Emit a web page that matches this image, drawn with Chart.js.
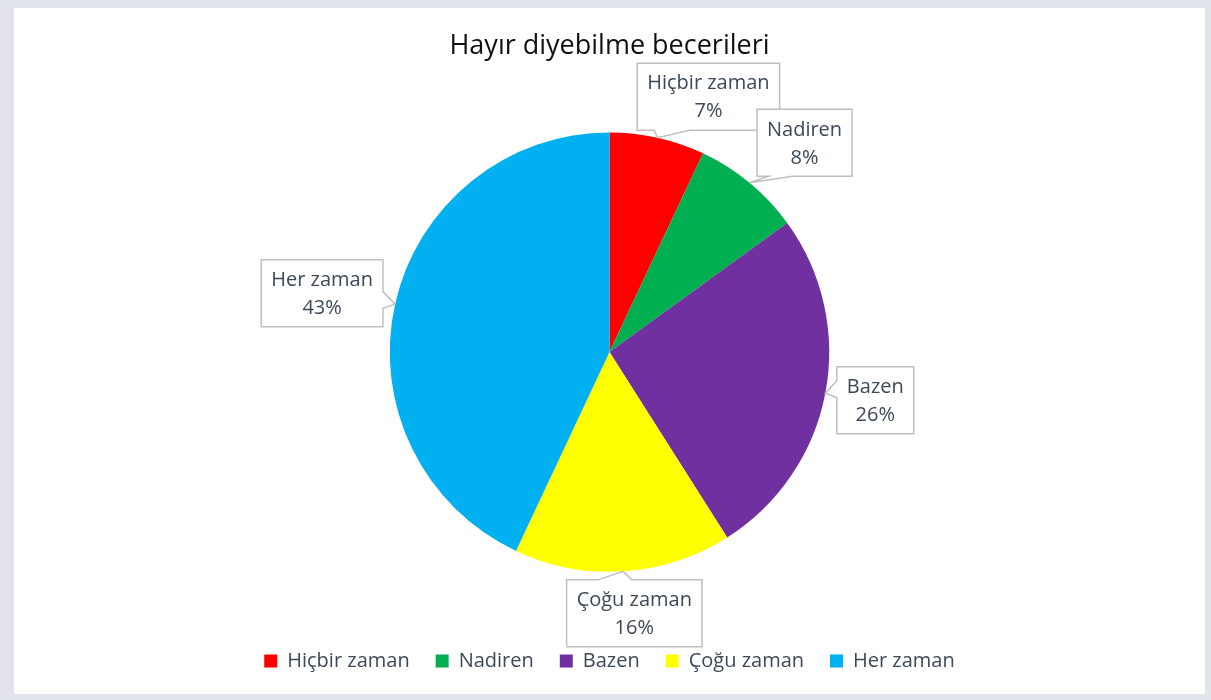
<!DOCTYPE html>
<html>
<head>
<meta charset="utf-8">
<script src="https://cdn.jsdelivr.net/npm/chart.js@4.4.0/dist/chart.umd.min.js"></script>
<style>
  html, body { margin: 0; padding: 0; background: #e1e5eb; }
  #frame { position: absolute; left: 14px; top: 8px; width: 1191px; height: 686px; background: #ffffff; }
</style>
</head>
<body>
<div id="frame"><canvas id="myChart"></canvas></div>
<script>
var categories = ["Hiçbir zaman", "Nadiren", "Bazen", "Çoğu zaman", "Her zaman"];
var percentValues = [7, 8, 26, 16, 43];
var sliceColors = ["#ff0000", "#00b050", "#7030a0", "#ffff00", "#00b0f0"];

// where each callout box sits, relative to the point on the slice edge
var calloutOffsets = [[51, -41], [55, -40], [50, 7], [11, 42], [-73, -11]];

var textColor = "#3d4859";

// draws Excel-like callout boxes pointing at the middle of each slice's arc
var calloutPlugin = {
    id: "callouts",
    afterDatasetsDraw: function (chart) {
        var ctx = chart.ctx;
        var meta = chart.getDatasetMeta(0);
        ctx.save();
        ctx.font = "20px 'Open Sans'";
        meta.data.forEach(function (arc, i) {
            var mid = (arc.startAngle + arc.endAngle) / 2;
            var tipX = arc.x + Math.cos(mid) * arc.outerRadius;
            var tipY = arc.y + Math.sin(mid) * arc.outerRadius;
            var line1 = categories[i];
            var line2 = percentValues[i] + "%";
            var w = Math.max(ctx.measureText(line1).width, ctx.measureText(line2).width) + 20;
            var h = 67;
            var cx = tipX + calloutOffsets[i][0];
            var cy = tipY + calloutOffsets[i][1];
            var l = cx - w / 2, r = cx + w / 2, t = cy - h / 2, b = cy + h / 2;

            var side;
            if (tipY > b) side = "bottom";
            else if (tipY < t) side = "top";
            else if (tipX < l) side = "left";
            else side = "right";

            function base(start, len, proj) {
                var bw = len * 0.25;
                var s = proj - start - bw * 0.75;
                s = Math.max(len * 0.12, Math.min(len - len * 0.12 - bw, s));
                return [start + s, start + s + bw];
            }

            ctx.beginPath();
            ctx.moveTo(l, t);
            if (side === "top") {
                var bt = base(l, w, tipX);
                ctx.lineTo(bt[0], t); ctx.lineTo(tipX, tipY); ctx.lineTo(bt[1], t);
            }
            ctx.lineTo(r, t);
            if (side === "right") {
                var br = base(t, h, tipY);
                ctx.lineTo(r, br[0]); ctx.lineTo(tipX, tipY); ctx.lineTo(r, br[1]);
            }
            ctx.lineTo(r, b);
            if (side === "bottom") {
                var bb = base(l, w, tipX);
                ctx.lineTo(bb[1], b); ctx.lineTo(tipX, tipY); ctx.lineTo(bb[0], b);
            }
            ctx.lineTo(l, b);
            if (side === "left") {
                var bl = base(t, h, tipY);
                ctx.lineTo(l, bl[1]); ctx.lineTo(tipX, tipY); ctx.lineTo(l, bl[0]);
            }
            ctx.closePath();
            ctx.fillStyle = "#ffffff";
            ctx.fill();
            ctx.lineWidth = 1.5;
            ctx.strokeStyle = "#bfbfbf";
            ctx.stroke();

            ctx.fillStyle = textColor;
            ctx.textAlign = "center";
            ctx.textBaseline = "middle";
            ctx.fillText(line1, cx, cy - 13);
            ctx.fillText(line2, cx, cy + 15);
        });
        ctx.restore();
    }
};

var ctx = document.getElementById("myChart").getContext("2d");
var myChart = new Chart(ctx, {
    type: "pie",
    data: {
        labels: categories,
        datasets: [
            {
                label: "Hayır diyebilme becerileri",
                data: percentValues,
                backgroundColor: sliceColors,
                borderWidth: 0,
            },
        ],
    },
    options: {
        responsive: true,
        maintainAspectRatio: false,
        animation: false,
        layout: {
            padding: { bottom: 13 },
        },
        plugins: {
            legend: {
                position: "bottom",
                // empty title only used as a spacer above the legend row
                title: {
                    display: true,
                    text: " ",
                    font: { size: 1 },
                    padding: { top: 52, bottom: 0 },
                },
                labels: {
                    boxWidth: 13,
                    boxHeight: 13,
                    padding: 26,
                    color: textColor,
                    font: { family: "'Open Sans'", size: 20 },
                },
            },
            title: {
                display: true,
                text: "Hayır diyebilme becerileri",
                color: "#111111",
                font: { family: "'Open Sans'", size: 27, weight: "normal" },
                padding: { top: 22, bottom: 70 },
            },
            tooltip: { enabled: false },
        },
    },
    plugins: [calloutPlugin],
});
</script>
</body>
</html>
